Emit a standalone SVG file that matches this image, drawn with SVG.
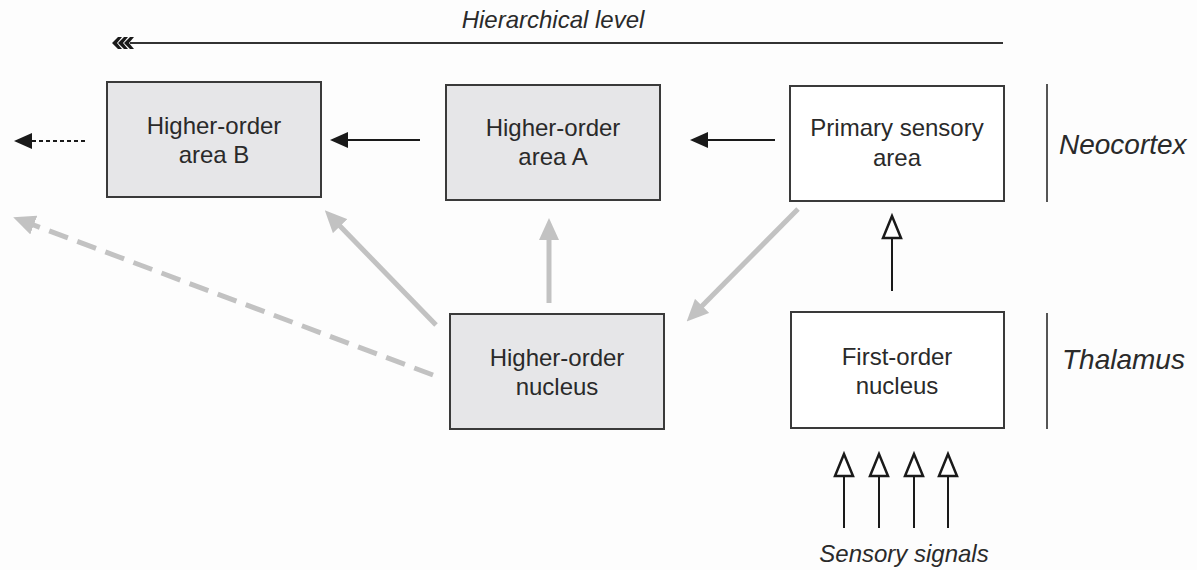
<svg xmlns="http://www.w3.org/2000/svg" width="1197" height="570" viewBox="0 0 1197 570">
<style>
  .box{stroke:#3a3a3a;stroke-width:2}
  .g{fill:#e6e6e8}
  .w{fill:#ffffff}
  .lbl{font-family:"Liberation Sans",Arial,sans-serif;font-size:24px;fill:#2a2a2a;text-anchor:middle}
  .it{font-family:"Liberation Sans",Arial,sans-serif;font-style:italic;fill:#2a2a2a}
  .blk{stroke:#1a1a1a;stroke-width:2;fill:none}
  .gray{stroke:#c2c2c2;stroke-width:5;fill:none}
  .sep{stroke:#555;stroke-width:2}
  .hol{fill:#ffffff;stroke:#1a1a1a;stroke-width:2.5;stroke-linejoin:miter}
</style>
<defs>
  <marker id="blkHead" viewBox="0 0 18 16" refX="0" refY="8" markerWidth="18" markerHeight="16" markerUnits="userSpaceOnUse" orient="auto">
    <path d="M0,0 L18,8 L0,16 Z" fill="#1a1a1a"/>
  </marker>
  <marker id="grayHead" viewBox="0 0 22 20" refX="3" refY="10" markerWidth="22" markerHeight="20" markerUnits="userSpaceOnUse" orient="auto">
    <path d="M22,10 L0,0 L0,20 Z" fill="#c2c2c2"/>
  </marker>
</defs>
<rect width="1197" height="570" fill="#fdfdfd"/>

<g id="hierarchy">
  <line x1="130" y1="43" x2="1003" y2="43" stroke="#333" stroke-width="2"/>
  <path d="M118,37 L112,43 L118,49 L122,49 L117,43 L122,37 Z M124,37 L118,43 L124,49 L128,49 L123,43 L128,37 Z M130,37 L124,43 L130,49 L134,49 L129,43 L134,37 Z" fill="#1a1a1a"/>
  <text class="it" x="553" y="28" font-size="24" text-anchor="middle">Hierarchical level</text>
</g>

<g id="connectors">
  <line class="blk" x1="775" y1="140" x2="708" y2="140" marker-end="url(#blkHead)"/>
  <line class="blk" x1="420" y1="140" x2="348" y2="140" marker-end="url(#blkHead)"/>
  <line class="blk" x1="85" y1="141" x2="32" y2="141" stroke-dasharray="4,3" marker-end="url(#blkHead)"/>
  <line class="gray" x1="549" y1="303" x2="549" y2="237" marker-end="url(#grayHead)"/>
  <line class="gray" x1="436" y1="325" x2="338" y2="224" marker-end="url(#grayHead)"/>
  <line class="gray" x1="798" y1="209" x2="700" y2="308" marker-end="url(#grayHead)"/>
  <line class="gray" x1="433" y1="375" x2="31" y2="224" stroke-dasharray="20,10" marker-end="url(#grayHead)"/>
  <line class="blk" x1="892" y1="291" x2="892" y2="238"/>
  <path class="hol" d="M892,216 L883,238 L901,238 Z"/>
  <line class="blk" x1="844" y1="528" x2="844" y2="476"/>
  <path class="hol" d="M844,454 L835,476 L853,476 Z"/>
  <line class="blk" x1="879" y1="528" x2="879" y2="476"/>
  <path class="hol" d="M879,454 L870,476 L888,476 Z"/>
  <line class="blk" x1="914" y1="528" x2="914" y2="476"/>
  <path class="hol" d="M914,454 L905,476 L923,476 Z"/>
  <line class="blk" x1="948" y1="528" x2="948" y2="476"/>
  <path class="hol" d="M948,454 L939,476 L957,476 Z"/>
</g>

<g id="areaB">
  <rect class="box g" x="107" y="82" width="214" height="115"/>
  <text class="lbl" x="214" y="134">Higher-order</text>
  <text class="lbl" x="214" y="163">area B</text>
</g>
<g id="areaA">
  <rect class="box g" x="446" y="85" width="214" height="115"/>
  <text class="lbl" x="553" y="136">Higher-order</text>
  <text class="lbl" x="553" y="165">area A</text>
</g>
<g id="primary">
  <rect class="box w" x="790" y="86" width="214" height="115"/>
  <text class="lbl" x="897" y="136">Primary sensory</text>
  <text class="lbl" x="897" y="166">area</text>
</g>
<g id="hoNucleus">
  <rect class="box g" x="450" y="314" width="214" height="115"/>
  <text class="lbl" x="557" y="366">Higher-order</text>
  <text class="lbl" x="557" y="395">nucleus</text>
</g>
<g id="foNucleus">
  <rect class="box w" x="791" y="312" width="213" height="116"/>
  <text class="lbl" x="897" y="365">First-order</text>
  <text class="lbl" x="897" y="394">nucleus</text>
</g>

<g id="levels">
  <line class="sep" x1="1047" y1="84" x2="1047" y2="202"/>
  <text class="it" x="1059" y="154" font-size="28">Neocortex</text>
  <line class="sep" x1="1047" y1="313" x2="1047" y2="429"/>
  <text class="it" x="1062" y="369" font-size="28">Thalamus</text>
  <text class="it" x="904" y="562" font-size="24" text-anchor="middle">Sensory signals</text>
</g>
</svg>
